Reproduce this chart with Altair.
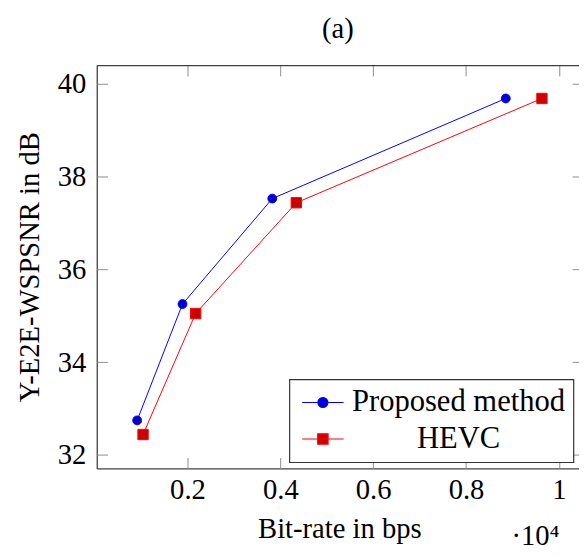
import altair as alt
import pandas as pd

# ---- data ----
series_names = ["Proposed method", "HEVC"]
proposed_bitrate = [916, 1893, 3827, 8857]
proposed_psnr = [32.745, 35.255, 37.53, 39.69]
hevc_bitrate = [1043, 2176, 4344, 9635]
hevc_psnr = [32.44, 35.05, 37.44, 39.69]
x_ticks = [2000, 4000, 6000, 8000, 10000]
y_ticks = [32, 34, 36, 38, 40]

rows = []
for s, xs, ys in ((series_names[0], proposed_bitrate, proposed_psnr),
                  (series_names[1], hevc_bitrate, hevc_psnr)):
    for xv, yv in zip(xs, ys):
        rows.append({"series": s, "bitrate": xv, "psnr": yv})
df = pd.DataFrame(rows)

FONT = "Liberation Serif"
FS = 29
LEG_FS = 31
line_colors = ["#0000ff", "#ff0000"]
fill_colors = ["#0000cc", "#cc0000"]
TICK_COLOR = "#8c8c8c"
DOMAIN_COLOR = "#404040"

xscale = alt.Scale(domain=[46, 10433], nice=False, zero=False)
yscale = alt.Scale(domain=[31.709, 40.411], nice=False, zero=False)

base = alt.Chart(df)

# layer 1: lines + labelled axes (bottom / left) with frame lines
lines = base.mark_line(strokeWidth=1).encode(
    x=alt.X("bitrate:Q", scale=xscale,
            axis=alt.Axis(orient="bottom", values=x_ticks, labelExpr="datum.value / 10000",
                          domain=True, ticks=False, tickSize=0, labelPadding=8, labelFlush=False,
                          grid=False, title="Bit-rate in bps", titleX=246, titleY=70,
                          titleAlign="center", titleBaseline="alphabetic")),
    y=alt.Y("psnr:Q", scale=yscale,
            axis=alt.Axis(orient="left", values=y_ticks, domain=True, ticks=False, tickSize=0,
                          labelPadding=11, labelFlush=False, grid=False,
                          title="Y-E2E-WSPSNR in dB", titleX=-59, titleY=204.5, titleAngle=270,
                          titleAlign="center", titleBaseline="alphabetic")),
    stroke=alt.Stroke("series:N", scale=alt.Scale(domain=series_names, range=line_colors), legend=None),
)

# layer 2: markers + inward ticks (bottom / left)
points = base.mark_point(filled=True, strokeWidth=1, opacity=1).encode(
    x=alt.X("bitrate:Q", scale=xscale,
            axis=alt.Axis(orient="bottom", values=x_ticks, labels=False, domain=False, ticks=True,
                          tickSize=11, offset=-11, grid=False, title="·10⁴", titleX=420, titleY=88,
                          titleAlign="left", titleBaseline="alphabetic")),
    y=alt.Y("psnr:Q", scale=yscale,
            axis=alt.Axis(orient="left", values=y_ticks, labels=False, domain=False, ticks=True,
                          tickSize=11, offset=-11, grid=False, title=None)),
    fill=alt.Fill("series:N", scale=alt.Scale(domain=series_names, range=fill_colors), legend=None),
    stroke=alt.Stroke("series:N", scale=alt.Scale(domain=series_names, range=line_colors), legend=None),
    shape=alt.Shape("series:N", scale=alt.Scale(domain=series_names, range=["circle", "square"]), legend=None),
    size=alt.Size("series:N", scale=alt.Scale(domain=series_names, range=[80, 110]), legend=None),
)

# layer 3: legend carrier + inward ticks (top / right)
circle_path = "M-2,0L2,0M-0.48,0A0.48,0.48,0,1,1,0.48,0A0.48,0.48,0,1,1,-0.48,0Z"
square_path = "M-2,0L2,0M-0.5,-0.5L0.5,-0.5L0.5,0.5L-0.5,0.5Z"
leg = alt.Legend(title=None, orient="none", legendX=195.3, legendY=318.7,
                 labelFont=FONT, labelFontSize=LEG_FS, labelColor="black", labelAlign="center",
                 labelOffset=122, labelLimit=400, symbolSize=441, symbolOffset=10.5,
                 symbolStrokeWidth=1.2, symbolOpacity=1, padding=8, rowPadding=5,
                 strokeColor="#333333", fillColor="white")
legend_layer = base.mark_point(filled=True, opacity=0).encode(
    x=alt.X("bitrate:Q", scale=xscale,
            axis=alt.Axis(orient="top", values=x_ticks, labels=False, domain=False, ticks=True,
                          tickSize=11, offset=-11, grid=False, title=None)),
    y=alt.Y("psnr:Q", scale=yscale,
            axis=alt.Axis(orient="right", values=y_ticks, labels=False, domain=False, ticks=True,
                          tickSize=7, offset=-7, grid=False, title=None)),
    fill=alt.Fill("series:N", scale=alt.Scale(domain=series_names, range=fill_colors), legend=leg),
    stroke=alt.Stroke("series:N", scale=alt.Scale(domain=series_names, range=line_colors), legend=leg),
    shape=alt.Shape("series:N", scale=alt.Scale(domain=series_names, range=[circle_path, square_path]), legend=leg),
)

# layer 4: top frame line
frame = base.mark_line(opacity=0).encode(
    x=alt.X("bitrate:Q", scale=xscale,
            axis=alt.Axis(orient="top", domain=True, ticks=False, labels=False, grid=False, title=None)),
    y=alt.Y("psnr:Q", scale=yscale, axis=None),
    detail="series:N",
)

chart = (
    alt.layer(lines, points, legend_layer, frame)
    .resolve_scale(fill="independent", stroke="independent", shape="independent", size="independent")
    .resolve_axis(x="independent", y="independent")
    .properties(
        width=489, height=409,
        autosize=alt.AutoSizeParams(type="none"),
        padding={"left": 90, "top": 54, "right": 0, "bottom": 86},
        title=alt.Title("(a)", font=FONT, fontSize=FS, fontWeight="normal", color="black",
                        anchor="middle", frame="group", offset=28, dy=30, baseline="alphabetic"),
    )
    .configure_view(stroke=None)
    .configure_axis(labelFont=FONT, labelFontSize=FS, labelColor="black",
                    titleFont=FONT, titleFontSize=FS, titleFontWeight="normal", titleColor="black",
                    domainColor=DOMAIN_COLOR, domainWidth=1.3, tickColor=TICK_COLOR, tickWidth=1,
                    minExtent=0)
    .configure_legend(strokeWidth=1.2, labelFont=FONT, labelFontSize=LEG_FS, labelColor="black")
)

chart.save("out.html", embed_options={"renderer": "svg", "actions": False})
